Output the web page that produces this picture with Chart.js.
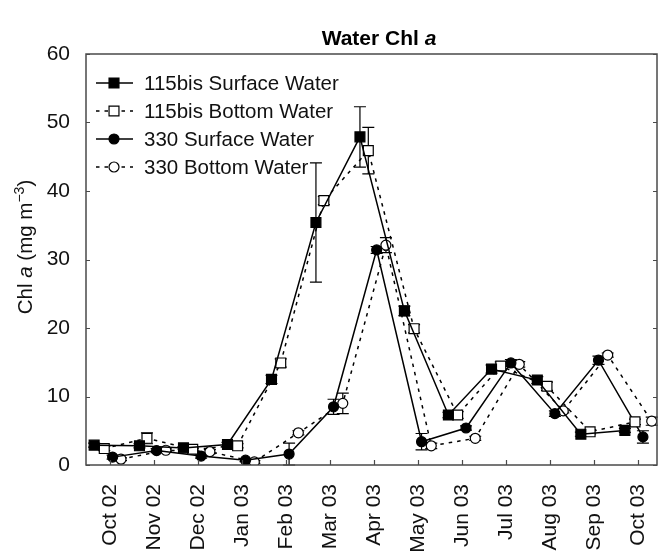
<!DOCTYPE html>
<html>
<head>
<meta charset="utf-8">
<script src="https://cdn.jsdelivr.net/npm/chart.js@4.4.0/dist/chart.umd.min.js"></script>
<style>
html,body{margin:0;padding:0;background:#fff;}
#wrap{width:659px;height:554px;position:relative;}
</style>
</head>
<body>
<div id="wrap"><canvas id="c" width="659" height="554"></canvas></div>
<script>
// Month positions (0 = Oct 02) and tick labels
const monthTicks = [0,1,2,3,4,5,6,7,8,9,10,11,12];
const monthLabels = ['Oct 02','Nov 02','Dec 02','Jan 03','Feb 03','Mar 03','Apr 03','May 03','Jun 03','Jul 03','Aug 03','Sep 03','Oct 03'];
const yTicks = [0,10,20,30,40,50,60];

// 115bis Surface Water
const s115X = [-0.36,0.67,1.67,2.67,3.67,4.68,5.68,6.69,7.69,8.67,9.71,10.70,11.70];
const s115Y = [2.9,2.8,2.5,3.0,12.5,35.4,47.9,22.5,7.3,14.0,12.4,4.5,5.05];
const s115E = [0.3,0.3,0.2,0.3,0.6,8.7,4.4,0.7,0.4,0.6,0.5,0.3,0.3];
// 115bis Bottom Water
const b115X = [-0.13,0.84,1.88,2.90,3.88,4.86,5.87,6.91,7.90,8.88,9.93,10.91,11.93];
const b115Y = [2.4,3.9,2.3,2.8,14.9,38.6,45.9,19.9,7.3,14.45,11.5,4.85,6.3];
const b115E = [0.3,0.8,0.2,0.3,0.6,0.6,3.4,0.6,0.5,0.6,0.6,0.3,0.4];
// 330 Surface Water
const s330X = [0.06,1.06,2.07,3.08,4.07,5.08,6.06,7.08,8.09,9.11,10.11,11.10,12.11];
const s330Y = [1.15,2.1,1.3,0.7,1.6,8.5,31.4,3.4,5.4,14.9,7.5,15.3,4.1];
const s330E = [0.3,0.3,0.3,0.2,1.6,1.1,0.5,1.2,0.3,0.5,0.4,0.6,0.9];
// 330 Bottom Water
const b330X = [0.25,1.27,2.27,3.28,4.28,5.29,6.27,7.30,8.30,9.30,10.30,11.31,12.31];
const b330Y = [0.85,2.15,1.95,0.45,4.7,9.0,32.1,2.8,3.9,14.7,7.9,16.05,6.4];
const b330E = [0.2,0.2,0.3,0.2,0.3,1.5,1.1,0.4,0.3,0.4,0.3,0.3,0.6];

const seriesNames = ['115bis Surface Water','115bis Bottom Water','330 Surface Water','330 Bottom Water'];

function pts(xs, ys){ return xs.map((x,i)=>({x:x, y:ys[i]})); }

const FONT = '"Liberation Sans", Arial, Helvetica, sans-serif';
const DASH = [3.5,5];

const styles = [
  {style:'rect', radius:7, fill:'#000', dash:[]},
  {style:'rect', radius:7, fill:'#fff', dash:DASH},
  {style:'circle', radius:5, fill:'#000', dash:[]},
  {style:'circle', radius:5, fill:'#fff', dash:DASH}
];
const errs = [s115E, b115E, s330E, b330E];

const datasets = [pts(s115X,s115Y), pts(b115X,b115Y), pts(s330X,s330Y), pts(b330X,b330Y)].map((d,i)=>({
  label: seriesNames[i],
  data: d,
  borderColor:'#000',
  borderWidth:1.5,
  borderDash: styles[i].dash,
  pointStyle: styles[i].style,
  pointRadius: styles[i].radius,
  pointBackgroundColor: styles[i].fill,
  pointBorderColor:'#000',
  pointBorderWidth:1.2,
  pointHoverRadius: styles[i].radius,
  tension:0,
  fill:false
}));

const errorBars = {
  id:'errorBars',
  beforeDatasetsDraw(chart){
    const ctx = chart.ctx, xs = chart.scales.x, ys = chart.scales.y;
    ctx.save();
    ctx.strokeStyle = '#000';
    ctx.lineWidth = 1.2;
    chart.data.datasets.forEach((ds,i)=>{
      ds.data.forEach((p,j)=>{
        const e = errs[i][j];
        const px = xs.getPixelForValue(p.x);
        const y1 = ys.getPixelForValue(p.y + e);
        const y2 = ys.getPixelForValue(Math.max(0,p.y - e));
        ctx.beginPath();
        ctx.moveTo(px,y1); ctx.lineTo(px,y2);
        ctx.moveTo(px-6,y1); ctx.lineTo(px+6,y1);
        ctx.moveTo(px-6,y2); ctx.lineTo(px+6,y2);
        ctx.stroke();
      });
    });
    ctx.restore();
  }
};

function drawMarker(ctx, st, x, y){
  ctx.beginPath();
  if(st.style==='rect'){
    const h = st.radius*Math.SQRT1_2;
    ctx.rect(x-h,y-h,2*h,2*h);
  } else {
    ctx.arc(x,y,st.radius,0,Math.PI*2);
  }
  ctx.fillStyle = st.fill; ctx.fill();
  ctx.lineWidth = 1.2; ctx.strokeStyle = '#000'; ctx.stroke();
}

const decor = {
  id:'decor',
  afterDraw(chart){
    const ctx = chart.ctx, a = chart.chartArea, xs = chart.scales.x, ys = chart.scales.y;
    ctx.save();
    // frame
    ctx.strokeStyle = '#4a4a4a';
    ctx.lineWidth = 1.5;
    ctx.strokeRect(a.left, a.top, a.right-a.left, a.bottom-a.top);
    // inward ticks
    ctx.beginPath();
    monthTicks.forEach(v=>{
      const px = Math.round(xs.getPixelForValue(v))+0.5;
      ctx.moveTo(px,a.bottom); ctx.lineTo(px,a.bottom-5);
    });
    yTicks.forEach(v=>{
      const py = Math.round(ys.getPixelForValue(v))+0.5;
      ctx.moveTo(a.left,py); ctx.lineTo(a.left+4,py);
      ctx.moveTo(a.right,py); ctx.lineTo(a.right-4,py);
    });
    ctx.lineWidth = 1.2;
    ctx.stroke();

    // legend
    const rows = [83,111,139,167];
    ctx.textBaseline = 'middle';
    ctx.textAlign = 'left';
    rows.forEach((ry,i)=>{
      const st = styles[i];
      ctx.beginPath();
      ctx.setLineDash(st.dash);
      ctx.strokeStyle = '#000';
      ctx.lineWidth = 1.5;
      ctx.moveTo(96,ry); ctx.lineTo(133,ry);
      ctx.stroke();
      ctx.setLineDash([]);
      drawMarker(ctx, st, 114, ry);
      ctx.fillStyle = '#111';
      ctx.font = '20.5px ' + FONT;
      ctx.fillText(seriesNames[i], 144, ry+1);
    });

    // title
    ctx.textBaseline = 'alphabetic';
    ctx.fillStyle = '#000';
    const t1 = 'Water Chl ', t2 = 'a';
    ctx.font = 'bold 21px ' + FONT;
    const w1 = ctx.measureText(t1).width;
    ctx.font = 'italic bold 21px ' + FONT;
    const w2 = ctx.measureText(t2).width;
    let tx = 379 - (w1+w2)/2;
    ctx.font = 'bold 21px ' + FONT;
    ctx.fillText(t1, tx, 45);
    ctx.font = 'italic bold 21px ' + FONT;
    ctx.fillText(t2, tx+w1, 45);

    // y axis title
    ctx.translate(32, 247);
    ctx.rotate(-Math.PI/2);
    ctx.fillStyle = '#111';
    const parts = [
      {t:'Chl ', f:'20.5px '+FONT, dy:0},
      {t:'a', f:'italic 20.5px '+FONT, dy:0},
      {t:' (mg m', f:'20.5px '+FONT, dy:0},
      {t:'\u22123', f:'14px '+FONT, dy:-8},
      {t:')', f:'20.5px '+FONT, dy:0}
    ];
    let tw = 0;
    parts.forEach(p=>{ ctx.font = p.f; p.w = ctx.measureText(p.t).width; tw += p.w; });
    let cx = -tw/2;
    parts.forEach(p=>{ ctx.font = p.f; ctx.fillText(p.t, cx, p.dy); cx += p.w; });
    ctx.restore();
  }
};

new Chart(document.getElementById('c'), {
  type:'line',
  data:{ datasets: datasets },
  options:{
    responsive:false,
    animation:false,
    events:[],
    layout:{ autoPadding:false, padding:{ top:54, right:2, left:0, bottom:0 } },
    plugins:{ legend:{display:false}, title:{display:false}, tooltip:{enabled:false} },
    scales:{
      x:{
        type:'linear',
        min:-0.545, max:12.43,
        grid:{ display:false },
        border:{ display:false },
        afterBuildTicks(scale){ scale.ticks = monthTicks.map(v=>({value:v})); },
        afterFit(scale){ scale.height = 89; scale.paddingLeft = 0; scale.paddingRight = 0; },
        ticks:{
          autoSkip:false,
          minRotation:90, maxRotation:90,
          padding:11,
          color:'#111',
          font:{ family:FONT, size:21 },
          callback:(v)=> monthLabels[Math.round(v)]
        }
      },
      y:{
        type:'linear',
        min:0, max:60,
        grid:{ display:false },
        border:{ display:false },
        afterBuildTicks(scale){ scale.ticks = yTicks.map(v=>({value:v})); },
        afterFit(scale){ scale.width = 86; scale.paddingTop = 0; scale.paddingBottom = 0; },
        ticks:{
          padding:8,
          color:'#111',
          font:{ family:FONT, size:21 }
        }
      }
    }
  },
  plugins:[errorBars, decor]
});
</script>
</body>
</html>
